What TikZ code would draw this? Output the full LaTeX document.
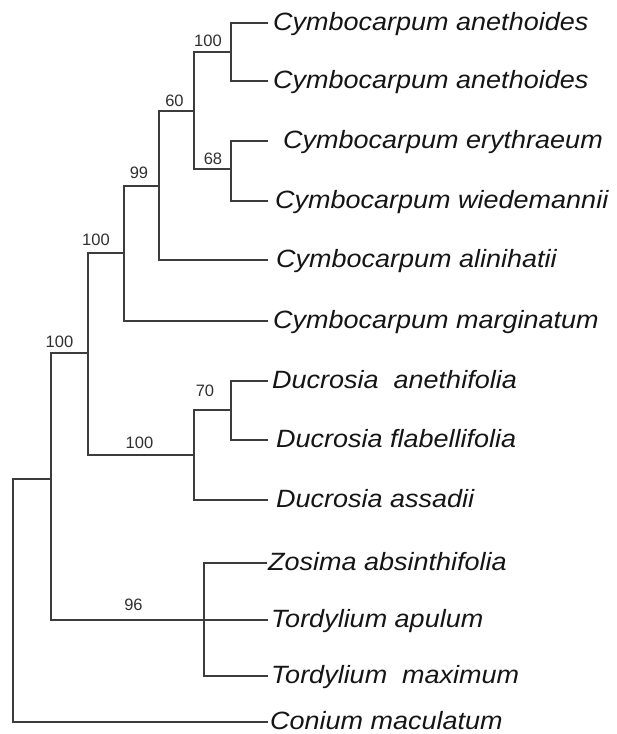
\documentclass[tikz,border=0pt]{standalone}
\usepackage{fontspec}
\setmainfont{Liberation Sans}
\usepackage{graphicx}
\definecolor{branch}{HTML}{3C3C3C}
\definecolor{leaftext}{HTML}{151515}
\definecolor{suptext}{HTML}{303030}
\tikzset{
  br/.style={draw=branch, line width=1.2pt, line cap=rect},
  leaf/.style={anchor=base west, inner sep=0pt, text=leaftext,
    font=\fontsize{25}{30}\selectfont\itshape},
  sup/.style={anchor=center, inner sep=0pt, text=suptext,
    font=\fontsize{16.5}{20}\selectfont}
}
\newcommand{\lf}[1]{\scalebox{1.08}[1]{#1}}
\begin{document}
\begin{tikzpicture}[x=1pt,y=-1pt]
\useasboundingbox (0,0) rectangle (617,734);
% tips
\coordinate (t1) at (267,23);
\coordinate (t2) at (267,81);
\coordinate (t3) at (267,141);
\coordinate (t4) at (267,201);
\coordinate (t5) at (267,260);
\coordinate (t6) at (267,321);
\coordinate (t7) at (267,381);
\coordinate (t8) at (267,440);
\coordinate (t9) at (267,500);
\coordinate (t10) at (266,563);
\coordinate (t11) at (267,620);
\coordinate (t12) at (267,676);
\coordinate (t13) at (267,722);
% internal nodes
\coordinate (n1) at (231,52);
\coordinate (n2) at (231,169);
\coordinate (n3) at (194,111);
\coordinate (n4) at (159,186);
\coordinate (n5) at (124,253);
\coordinate (n6) at (231,410);
\coordinate (n7) at (194,455);
\coordinate (n8) at (88,353);
\coordinate (n9) at (204,620);
\coordinate (n10) at (51,479);
\coordinate (root) at (13,600);
% branches
\draw[br] (n1) |- (t1);
\draw[br] (n1) |- (t2);
\draw[br] (n2) |- (t3);
\draw[br] (n2) |- (t4);
\draw[br] (n3) |- (n1);
\draw[br] (n3) |- (n2);
\draw[br] (n4) |- (n3);
\draw[br] (n4) |- (t5);
\draw[br] (n5) |- (n4);
\draw[br] (n5) |- (t6);
\draw[br] (n6) |- (t7);
\draw[br] (n6) |- (t8);
\draw[br] (n7) |- (n6);
\draw[br] (n7) |- (t9);
\draw[br] (n8) |- (n5);
\draw[br] (n8) |- (n7);
\draw[br] (n9) |- (t10);
\draw[br] (n9) -- (t11);
\draw[br] (n9) |- (t12);
\draw[br] (n10) |- (n8);
\draw[br] (n10) |- (n9);
\draw[br] (root) |- (n10);
\draw[br] (root) |- (t13);
% leaf labels
\node[leaf] (l1) at (273,30) {\lf{Cymbocarpum anethoides}};
\node[leaf] (l2) at (273,88) {\lf{Cymbocarpum anethoides}};
\node[leaf] (l3) at (283,148) {\lf{Cymbocarpum erythraeum}};
\node[leaf] (l4) at (275,208) {\lf{Cymbocarpum wiedemannii}};
\node[leaf] (l5) at (276,267) {\lf{Cymbocarpum alinihatii}};
\node[leaf] (l6) at (273,328) {\lf{Cymbocarpum marginatum}};
\node[leaf] (l7) at (272,388) {\lf{Ducrosia\ \ anethifolia}};
\node[leaf] (l8) at (276,447) {\lf{Ducrosia flabellifolia}};
\node[leaf] (l9) at (276,507) {\lf{Ducrosia assadii}};
\node[leaf] (l10) at (268,570) {\lf{Zosima absinthifolia}};
\node[leaf] (l11) at (271,627) {\lf{Tordylium apulum}};
\node[leaf] (l12) at (271,683) {\lf{Tordylium\ \ maximum}};
\node[leaf] (l13) at (270,729) {\lf{Conium maculatum}};
% support values
\node[sup] (s1) at (208,41) {100};
\node[sup] (s2) at (174.5,100.5) {60};
\node[sup] (s3) at (213,158.5) {68};
\node[sup] (s4) at (139,173) {99};
\node[sup] (s5) at (96,240) {100};
\node[sup] (s6) at (59.5,341.5) {100};
\node[sup] (s7) at (205,391) {70};
\node[sup] (s8) at (139.5,443) {100};
\node[sup] (s9) at (133.5,604.5) {96};
\end{tikzpicture}
\end{document}
